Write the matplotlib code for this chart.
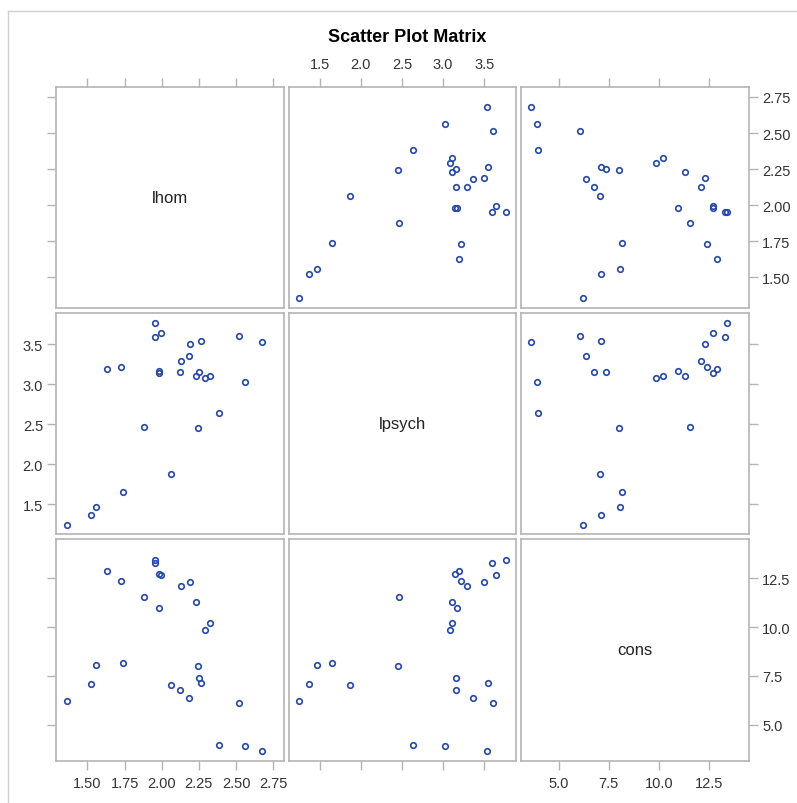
import matplotlib
matplotlib.use("Agg")
import matplotlib.pyplot as plt
from matplotlib.lines import Line2D
import numpy as np

plt.rcParams['font.family'] = ['Liberation Sans', 'DejaVu Sans']

# data
lhom = [1.359, 1.525, 1.560, 1.737, 1.628, 1.728, 1.879, 1.955, 1.952, 1.997,
        1.979, 2.065, 2.123, 2.129, 2.181, 2.190, 2.230, 2.241, 2.250, 2.264,
        2.291, 2.324, 2.383, 2.517, 2.560, 2.678, 1.982]
lpsych = [1.246, 1.371, 1.467, 1.654, 3.188, 3.221, 2.467, 3.767, 3.592, 3.642,
          3.165, 1.875, 3.154, 3.296, 3.358, 3.500, 3.108, 2.454, 3.158, 3.546,
          3.079, 3.108, 2.638, 3.608, 3.029, 3.533, 3.145]
cons = [6.21, 7.10, 8.07, 8.14, 12.88, 12.38, 11.54, 13.42, 13.29, 12.69,
        10.96, 7.05, 6.79, 12.12, 6.35, 12.31, 11.29, 8.00, 7.37, 7.12,
        9.87, 10.19, 3.97, 6.09, 3.92, 3.65, 12.70]

names = ['lhom', 'lpsych', 'cons']
data = [lhom, lpsych, cons]
ranges = [(1.288, 2.821), (1.125, 3.89), (3.15, 14.5)]
ticks = [[1.50, 1.75, 2.00, 2.25, 2.50, 2.75],
         [1.5, 2.0, 2.5, 3.0, 3.5],
         [5.0, 7.5, 10.0, 12.5]]
fmts = ['{:.2f}', '{:.1f}', '{:.1f}']

W, H = 797, 804
fig = plt.figure(figsize=(W / 100, H / 100), dpi=100)

x0, y0 = 56, 87.7
pw, ph, gap = 227.7, 221.3, 5
grid = '#b4b4b4'
mcol = '#2547a8'

fig.text(407 / W, 1 - 37 / H, 'Scatter Plot Matrix', ha='center', va='center',
         fontsize=13, fontweight='bold')

for r in range(3):
    for c in range(3):
        left = x0 + c * (pw + gap)
        top = y0 + r * (ph + gap)
        ax = fig.add_axes([left / W, 1 - (top + ph) / H, pw / W, ph / H])
        ax.set_xlim(ranges[c])
        ax.set_ylim(ranges[r])
        for s in ax.spines.values():
            s.set_color(grid)
            s.set_linewidth(1.2)
        if r == c:
            ax.text(0.5, 0.5, names[r], transform=ax.transAxes, ha='center',
                    va='center', fontsize=12, color='#222222')
        else:
            ax.plot(data[c], data[r], 'o', mfc='none', mec=mcol, ms=4, mew=1.2)

        # alternating axes like SAS
        ax.set_xticks(ticks[c])
        ax.set_yticks(ticks[r])
        ax.set_xticklabels([fmts[c].format(t) for t in ticks[c]])
        ax.set_yticklabels([fmts[r].format(t) for t in ticks[r]])
        show_top = r == 0
        show_bot = r == 2
        show_left = c == 0
        show_right = c == 2
        ax.tick_params(axis='x', top=show_top, bottom=show_bot,
                       labeltop=show_top and c == 1,
                       labelbottom=show_bot and c != 1,
                       length=6.3, width=1.0, color=grid, pad=5,
                       labelsize=10.5, labelcolor='#333333')
        ax.tick_params(axis='y', left=show_left, right=show_right,
                       labelleft=show_left and r == 1,
                       labelright=show_right and r != 1,
                       length=6.3, width=1.0, color=grid, pad=3,
                       labelsize=10.5, labelcolor='#333333')

# outer frame
fig.add_artist(Line2D([8 / W, 8 / W], [0, 1 - 12 / H], color='#d0d0d0', lw=1))
fig.add_artist(Line2D([8 / W, 1], [1 - 12 / H, 1 - 12 / H], color='#d0d0d0', lw=1))

fig.savefig('out.png', dpi=100, facecolor='white')
